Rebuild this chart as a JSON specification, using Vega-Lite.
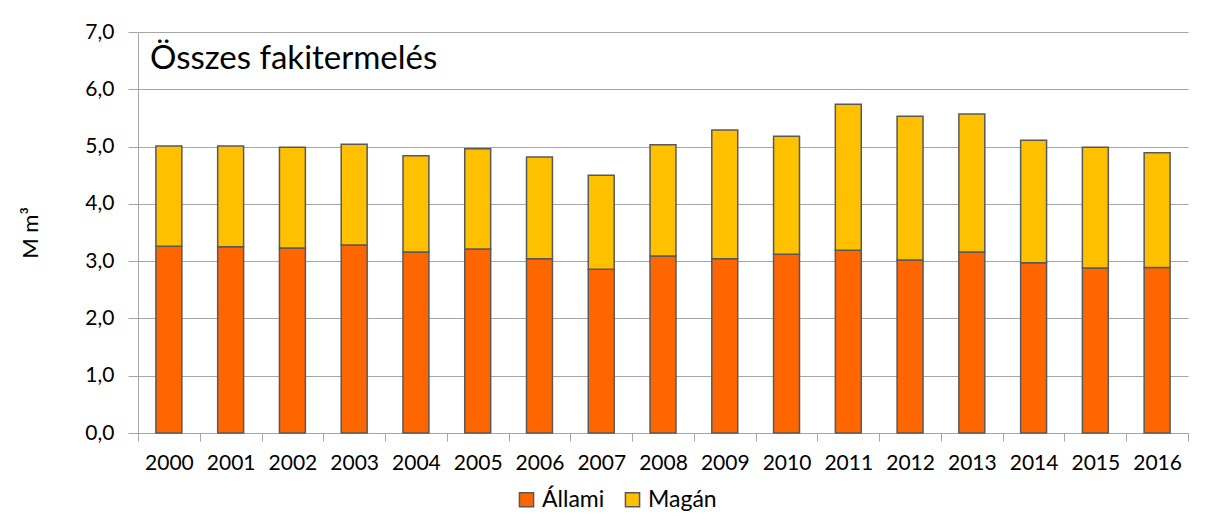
{
  "$schema": "https://vega.github.io/schema/vega-lite/v6.json",
  "width": 1050,
  "height": 401,
  "autosize": {"type": "none"},
  "padding": {"left": 138, "top": 32, "right": 27, "bottom": 87},
  "background": "white",
  "datasets": {
    "fakitermeles": [
      {"ev": "2000", "tipus": "Állami", "k": 1, "ertek": 3.26},
      {"ev": "2001", "tipus": "Állami", "k": 1, "ertek": 3.25},
      {"ev": "2002", "tipus": "Állami", "k": 1, "ertek": 3.23},
      {"ev": "2003", "tipus": "Állami", "k": 1, "ertek": 3.28},
      {"ev": "2004", "tipus": "Állami", "k": 1, "ertek": 3.16},
      {"ev": "2005", "tipus": "Állami", "k": 1, "ertek": 3.21},
      {"ev": "2006", "tipus": "Állami", "k": 1, "ertek": 3.04},
      {"ev": "2007", "tipus": "Állami", "k": 1, "ertek": 2.86},
      {"ev": "2008", "tipus": "Állami", "k": 1, "ertek": 3.09},
      {"ev": "2009", "tipus": "Állami", "k": 1, "ertek": 3.04},
      {"ev": "2010", "tipus": "Állami", "k": 1, "ertek": 3.12},
      {"ev": "2011", "tipus": "Állami", "k": 1, "ertek": 3.19},
      {"ev": "2012", "tipus": "Állami", "k": 1, "ertek": 3.02},
      {"ev": "2013", "tipus": "Állami", "k": 1, "ertek": 3.16},
      {"ev": "2014", "tipus": "Állami", "k": 1, "ertek": 2.97},
      {"ev": "2015", "tipus": "Állami", "k": 1, "ertek": 2.88},
      {"ev": "2016", "tipus": "Állami", "k": 1, "ertek": 2.89},
      {"ev": "2000", "tipus": "Magán", "k": 2, "ertek": 1.75},
      {"ev": "2001", "tipus": "Magán", "k": 2, "ertek": 1.76},
      {"ev": "2002", "tipus": "Magán", "k": 2, "ertek": 1.76},
      {"ev": "2003", "tipus": "Magán", "k": 2, "ertek": 1.76},
      {"ev": "2004", "tipus": "Magán", "k": 2, "ertek": 1.68},
      {"ev": "2005", "tipus": "Magán", "k": 2, "ertek": 1.75},
      {"ev": "2006", "tipus": "Magán", "k": 2, "ertek": 1.78},
      {"ev": "2007", "tipus": "Magán", "k": 2, "ertek": 1.64},
      {"ev": "2008", "tipus": "Magán", "k": 2, "ertek": 1.94},
      {"ev": "2009", "tipus": "Magán", "k": 2, "ertek": 2.25},
      {"ev": "2010", "tipus": "Magán", "k": 2, "ertek": 2.06},
      {"ev": "2011", "tipus": "Magán", "k": 2, "ertek": 2.55},
      {"ev": "2012", "tipus": "Magán", "k": 2, "ertek": 2.51},
      {"ev": "2013", "tipus": "Magán", "k": 2, "ertek": 2.41},
      {"ev": "2014", "tipus": "Magán", "k": 2, "ertek": 2.14},
      {"ev": "2015", "tipus": "Magán", "k": 2, "ertek": 2.11},
      {"ev": "2016", "tipus": "Magán", "k": 2, "ertek": 2.00}
    ],
    "cim": [
      {"ev": "2000", "szint": 6.53, "szoveg": "Összes fakitermelés"}
    ]
  },
  "layer": [
    {
      "data": {"name": "fakitermeles"},
      "mark": {"type": "bar", "width": {"band": 0.42}, "stroke": "#595959", "strokeWidth": 1.5},
      "encoding": {
        "x": {
          "field": "ev",
          "type": "nominal",
          "sort": null,
          "scale": {"paddingInner": 0, "paddingOuter": 0},
          "axis": {
            "title": null,
            "labelAngle": 0,
            "tickBand": "extent",
            "tickSize": 8,
            "tickColor": "#a6a6a6",
            "domainColor": "#a6a6a6",
            "labelPadding": 11,
            "labelFont": "Lato",
            "labelFontSize": 21,
            "labelColor": "#000000",
            "grid": false
          }
        },
        "y": {
          "field": "ertek",
          "type": "quantitative",
          "stack": "zero",
          "scale": {"domain": [0, 7], "nice": false},
          "axis": {
            "title": "M m³",
            "titleFont": "Lato",
            "titleFontSize": 22,
            "titleFontWeight": "normal",
            "titleColor": "#000000",
            "titlePadding": 42,
            "values": [0, 1, 2, 3, 4, 5, 6, 7],
            "labelExpr": "replace(format(datum.value, '.1f'), '.', ',')",
            "labelFont": "Lato",
            "labelFontSize": 21,
            "labelColor": "#000000",
            "labelPadding": 14,
            "tickSize": 10,
            "tickColor": "#a6a6a6",
            "domainColor": "#a6a6a6",
            "grid": true,
            "gridColor": "#a6a6a6",
            "gridWidth": 1
          }
        },
        "color": {
          "field": "tipus",
          "type": "nominal",
          "scale": {"domain": ["Állami", "Magán"], "range": ["#FF6600", "#FFC000"]},
          "legend": {
            "title": null,
            "orient": "none",
            "direction": "horizontal",
            "legendX": 377,
            "legendY": 456,
            "symbolType": "square",
            "symbolSize": 200,
            "symbolStrokeColor": "#595959",
            "symbolStrokeWidth": 1.5,
            "labelFont": "Lato",
            "labelFontSize": 23,
            "labelColor": "#000000",
            "columnPadding": 16,
            "labelOffset": 4
          }
        },
        "order": {"field": "k", "type": "quantitative", "sort": "ascending"}
      }
    },
    {
      "data": {"name": "cim"},
      "mark": {
        "type": "text",
        "align": "left",
        "baseline": "middle",
        "dx": 12,
        "font": "Lato",
        "fontSize": 33,
        "color": "#000000"
      },
      "encoding": {
        "x": {"field": "ev", "type": "nominal", "sort": null, "bandPosition": 0},
        "y": {"field": "szint", "type": "quantitative"},
        "text": {"field": "szoveg", "type": "nominal"}
      }
    }
  ],
  "config": {
    "view": {"stroke": null}
  }
}
